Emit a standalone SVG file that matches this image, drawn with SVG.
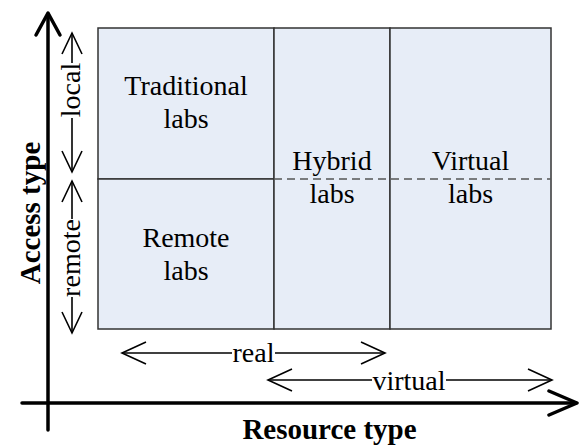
<svg xmlns="http://www.w3.org/2000/svg" width="579" height="447" viewBox="0 0 579 447" font-family="Liberation Serif, Times New Roman, serif">
<style>
.cell{fill:#e7edf7;stroke:#333;stroke-width:1.5}
.thick{stroke:#000;stroke-width:3.5;fill:none;stroke-linecap:round;stroke-linejoin:round}
.thin{stroke:#000;stroke-width:1.6;fill:none}
.dash{stroke:#555;stroke-width:1.5;stroke-dasharray:8 5;fill:none}
</style>
<rect width="579" height="447" fill="#fff"/>
<g font-size="28" text-anchor="middle" fill="#000">
<g id="traditional">
<rect class="cell" x="98" y="28" width="176" height="151"/>
<text x="186" y="95">Traditional</text>
<text x="186" y="128">labs</text>
</g>
<g id="remote">
<rect class="cell" x="98" y="179" width="176" height="150"/>
<text x="186" y="247">Remote</text>
<text x="186" y="280">labs</text>
</g>
<g id="hybrid">
<rect class="cell" x="274" y="28" width="116" height="301"/>
<text x="332" y="170">Hybrid</text>
<text x="332" y="203">labs</text>
</g>
<g id="virtual">
<rect class="cell" x="390" y="28" width="161" height="301"/>
<text x="470.5" y="170">Virtual</text>
<text x="470.5" y="203">labs</text>
</g>
</g>
<g id="connectors">
<line class="dash" x1="274" y1="179" x2="551" y2="179"/>
<line class="thick" x1="48" y1="14" x2="48" y2="430"/>
<polyline class="thick" points="36,35 48,13 60,35"/>
<line class="thick" x1="22" y1="403" x2="576" y2="403"/>
<polyline class="thick" points="549,391 577,403 549,415"/>
<line class="thin" x1="72" y1="33" x2="72" y2="63"/>
<line class="thin" x1="72" y1="118" x2="72" y2="172"/>
<polyline class="thin" points="62,54 72,33 82,54"/>
<polyline class="thin" points="62,151 72,172 82,151"/>
<line class="thin" x1="72" y1="181" x2="72" y2="219"/>
<line class="thin" x1="72" y1="297" x2="72" y2="333"/>
<polyline class="thin" points="62,202 72,181 82,202"/>
<polyline class="thin" points="62,312 72,333 82,312"/>
<line class="thin" x1="122" y1="353" x2="232" y2="353"/>
<line class="thin" x1="275" y1="353" x2="385" y2="353"/>
<polyline class="thin" points="146,342 122,353 146,364"/>
<polyline class="thin" points="361,342 385,353 361,364"/>
<line class="thin" x1="268" y1="380" x2="372" y2="380"/>
<line class="thin" x1="446" y1="380" x2="552" y2="380"/>
<polyline class="thin" points="292,369 268,380 292,391"/>
<polyline class="thin" points="528,369 552,380 528,391"/>
</g>
<g id="labels" text-anchor="middle" fill="#000">
<g font-size="28">
<text transform="translate(72,90) rotate(-90)" y="8">local</text>
<text transform="translate(72,258) rotate(-90)" y="8">remote</text>
<text x="253.5" y="362">real</text>
<text x="409" y="390">virtual</text>
</g>
<g font-size="29" font-weight="bold">
<text transform="translate(40,213) rotate(-90)">Access type</text>
<text x="329.5" y="439">Resource type</text>
</g>
</g>
</svg>
